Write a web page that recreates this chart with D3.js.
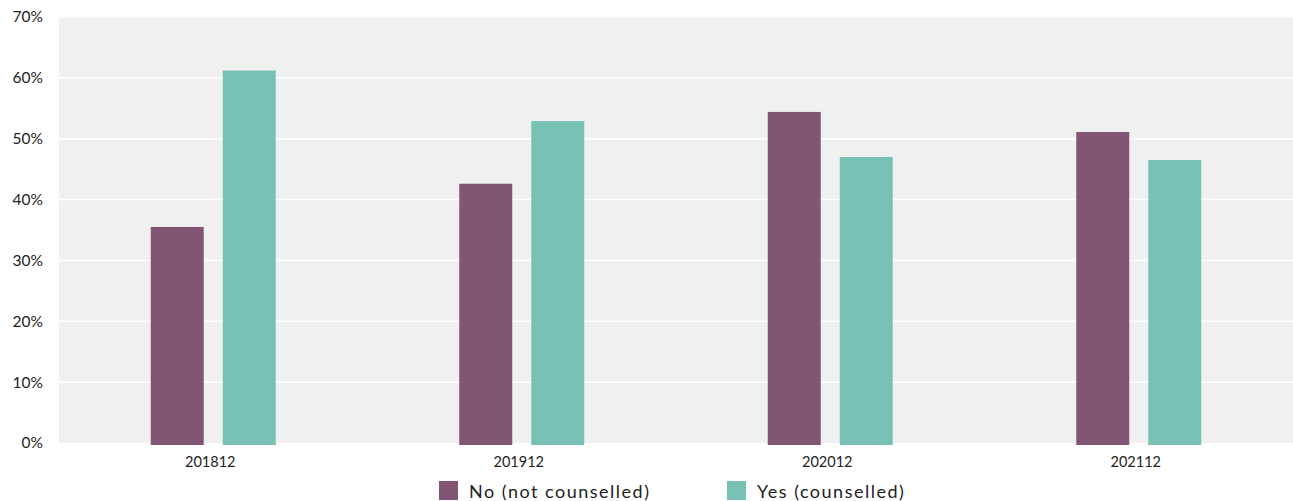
<!DOCTYPE html>
<html>
<head>
<meta charset="utf-8">
<script src="https://cdn.jsdelivr.net/npm/d3@7"></script>
<style>
  html, body { margin: 0; padding: 0; background: #ffffff; }
  svg { display: block; font-family: Lato, "Open Sans", sans-serif; }
</style>
</head>
<body>
<svg id="chart" width="1293" height="501"></svg>
<script>
// ---- data ----
const categories = ["201812", "201912", "202012", "202112"];
const seriesNames = ["No (not counselled)", "Yes (counselled)"];
const seriesKeys = ["No", "Yes"];
const noValues = [35.5, 42.6, 54.4, 51.1];
const yesValues = [61.2, 52.9, 47.0, 46.5];
const yTicks = [0, 10, 20, 30, 40, 50, 60, 70];
const colors = ["#825574", "#77c2b5"];

const rows = categories.map((c, i) => ({ cat: c, No: noValues[i], Yes: yesValues[i] }));

// ---- layout ----
const svg = d3.select("#chart");
const plotLeft = 59, plotRight = 1293, plotTop = 17, plotBottom = 443;

const x0 = d3.scaleBand().domain(categories).range([plotLeft, plotRight]).paddingInner(0).paddingOuter(0);
const groupW = 125;
const x1 = d3.scaleBand().domain(seriesKeys).range([0, groupW]).paddingInner(19 / 72).paddingOuter(0);
const y = d3.scaleLinear().domain([0, 70]).range([plotBottom, plotTop]);
const color = d3.scaleOrdinal().domain(seriesKeys).range(colors);

// background
svg.append("rect")
  .attr("x", plotLeft).attr("y", plotTop - 1)
  .attr("width", plotRight - plotLeft).attr("height", plotBottom - plotTop + 1)
  .attr("fill", "#f0f0f0");

// gridlines
svg.append("g").selectAll("line")
  .data(yTicks.filter(t => t > 0))
  .join("line")
  .attr("x1", plotLeft).attr("x2", plotRight)
  .attr("y1", d => y(d)).attr("y2", d => y(d))
  .attr("stroke", "#ffffff").attr("stroke-width", 1.6);

// y axis labels
const yAxis = d3.axisLeft(y).tickValues(yTicks).tickFormat(d => d + "%").tickSize(0).tickPadding(0);
const gy = svg.append("g").attr("transform", `translate(${plotLeft - 16},0)`).call(yAxis);
gy.select(".domain").remove();
gy.selectAll("text")
  .attr("fill", "#222222")
  .attr("font-size", 15.5)
  .attr("font-family", "Lato, 'Open Sans', sans-serif");

// bars
const groups = svg.append("g").selectAll("g")
  .data(rows)
  .join("g")
  .attr("transform", d => `translate(${x0(d.cat) + (x0.bandwidth() - groupW) / 2},0)`);

groups.selectAll("rect")
  .data(d => seriesKeys.map(k => ({ key: k, value: d[k] })))
  .join("rect")
  .attr("x", d => x1(d.key))
  .attr("y", d => y(d.value))
  .attr("width", x1.bandwidth())
  .attr("height", d => y(0) - y(d.value) + 2)
  .attr("fill", d => color(d.key));

// x axis labels
const xAxis = d3.axisBottom(x0).tickSize(0).tickPadding(0);
const gx = svg.append("g").attr("transform", `translate(-3,${plotBottom + 14})`).call(xAxis);
gx.select(".domain").remove();
gx.selectAll("text")
  .attr("fill", "#222222")
  .attr("font-size", 14.5)
  .attr("font-family", "Lato, 'Open Sans', sans-serif");

// legend
const legendX = [439, 727];
const legend = svg.append("g").selectAll("g")
  .data(seriesKeys)
  .join("g")
  .attr("transform", (d, i) => `translate(${legendX[i]},481)`);
legend.append("rect")
  .attr("width", 19).attr("height", 19)
  .attr("fill", d => color(d));
legend.append("text")
  .attr("x", 30).attr("y", 17)
  .attr("fill", "#222222")
  .attr("font-size", 18)
  .attr("letter-spacing", 1.5)
  .text((d, i) => seriesNames[i]);
</script>
</body>
</html>
